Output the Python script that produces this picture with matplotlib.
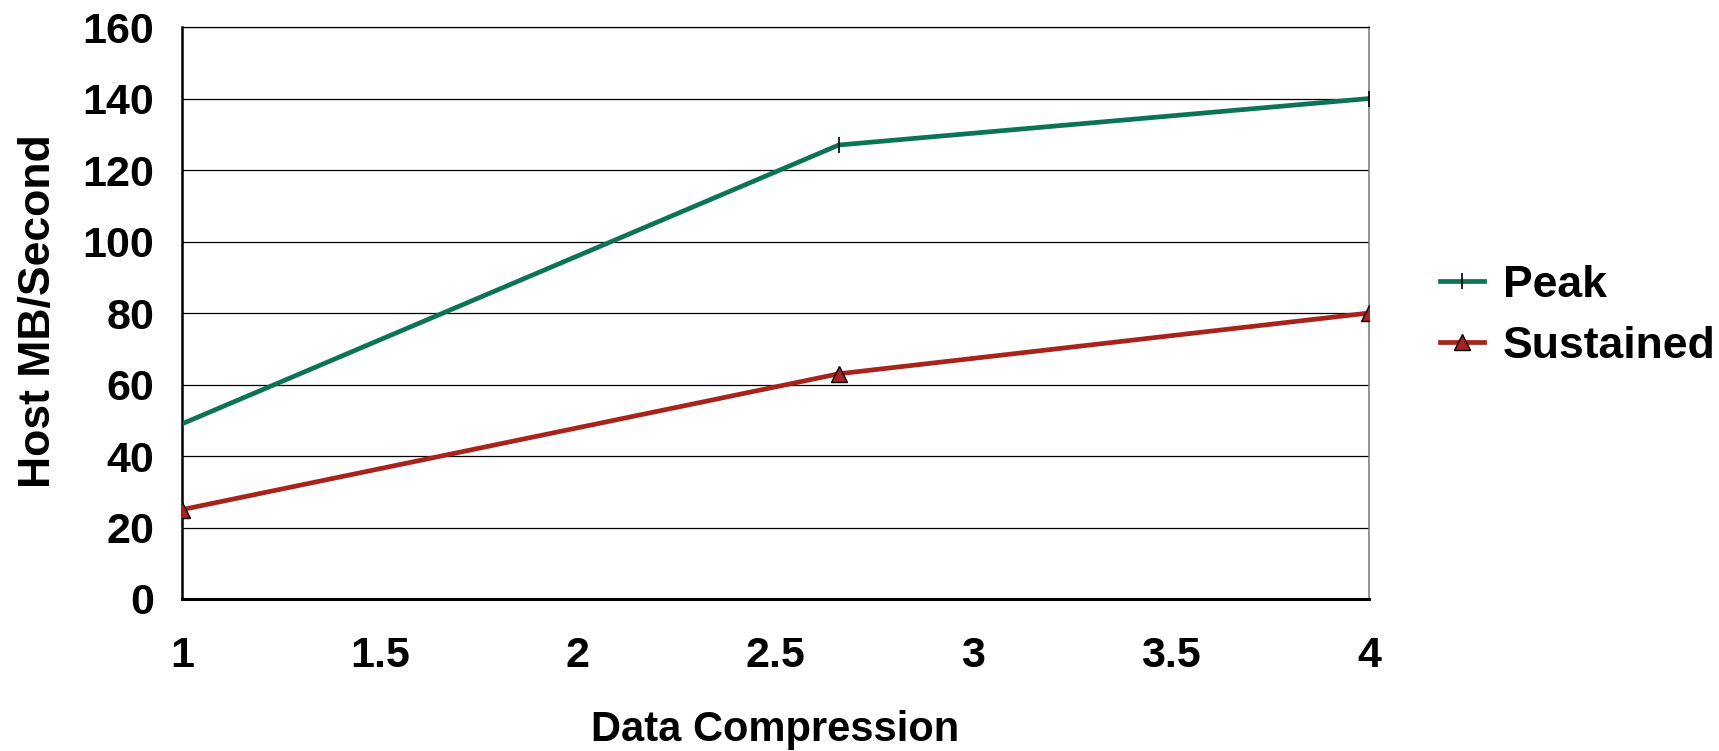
import matplotlib
matplotlib.use("Agg")
from matplotlib import pyplot as plt

# compression ratio vs host throughput
compression = [1, 2.66, 4]
peak = [49, 127, 140]
sustained = [25, 63, 80]

plt.rcParams.update({'font.family': 'Liberation Sans', 'font.weight': 'bold',
                     'axes.labelweight': 'bold', 'font.size': 30})

fig = plt.figure(figsize=(17.19, 7.51), dpi=100)
ax = fig.add_axes([0.1059, 0.2024, 0.6905, 0.7616])

ax.plot(compression, peak, color='#0b7456', lw=3.4, marker='|', ms=12,
        mec='black', mew=1.2, label='Peak', zorder=3)
ax.plot(compression, sustained, color='#a8231b', lw=3.4, marker='^', ms=12,
        mfc='#a8231b', mec='black', mew=1.0, label='Sustained', zorder=3)

ax.set_xlim(1, 4)
ax.set_ylim(0, 160)
ax.set_xticks([1, 1.5, 2, 2.5, 3, 3.5, 4])
ax.set_xticklabels(['1', '1.5', '2', '2.5', '3', '3.5', '4'])
ax.set_yticks(range(0, 161, 20))
ax.yaxis.grid(True, color='black', lw=0.9)
ax.set_axisbelow(True)
ax.tick_params(length=0, labelsize=31)
ax.tick_params(axis='x', pad=27)
ax.tick_params(axis='y', pad=20)

ax.spines['left'].set_linewidth(1.8)
ax.spines['bottom'].set_linewidth(2.2)
ax.spines['top'].set_linewidth(0.9)
ax.spines['right'].set_color('#808080')
ax.spines['right'].set_linewidth(1.2)

ax.set_xlabel('Data Compression')
ax.xaxis.set_label_coords(0.5, -0.229)
ax.xaxis.label.set_va('center')
ax.set_ylabel('Host MB/Second', fontsize=32)
ax.yaxis.set_label_coords(-0.1213, 0.5035)
ax.yaxis.label.set_va('center')

ax.legend(loc='center left', bbox_to_anchor=(1440 / 1719, 1 - 316 / 751),
          bbox_transform=fig.transFigure, frameon=False, borderpad=0, borderaxespad=0,
          handlelength=1.0, handletextpad=0.42, labelspacing=0.45, fontsize=32)

fig.savefig('out.png', dpi=100)
